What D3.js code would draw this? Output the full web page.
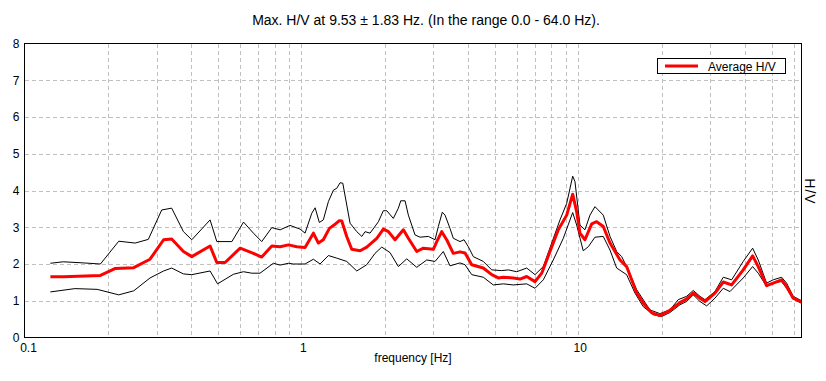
<!DOCTYPE html>
<html><head><meta charset="utf-8">
<script src="https://cdn.jsdelivr.net/npm/d3@7"></script>
<style>
html,body{margin:0;padding:0;background:#fff;}
svg{display:block;font-family:"Liberation Sans",Arial,sans-serif;}
</style></head>
<body>
<svg id="c" width="826" height="381"></svg>
<script>
const titleText = "Max. H/V at 9.53 \u00b1 1.83 Hz. (In the range 0.0 - 64.0 Hz).";
const xLabel = "frequency [Hz]";
const yLabel = "H/V";
const legendLabel = "Average H/V";
const xTickLabels = [0.1, 1, 10];
const xGrid = [0.2,0.3,0.4,0.5,0.6,0.7,0.8,0.9,1,2,3,4,5,6,7,8,9,10,20,30,40,50,60];
const yTicks = [0,1,2,3,4,5,6,7,8];

const freqUpper = [0.124,0.138,0.163,0.188,0.219,0.251,0.280,0.313,0.340,0.375,0.402,0.468,0.495,0.561,0.618,0.671,0.719,0.782,0.838,0.910,0.989,1.031,1.090,1.121,1.161,1.200,1.252,1.305,1.342,1.379,1.411,1.499,1.585,1.653,1.698,1.770,1.897,1.977,2.034,2.148,2.240,2.285,2.368,2.434,2.573,2.683,2.874,3.039,3.123,3.228,3.302,3.441,3.537,3.740,3.867,4.008,4.178,4.539,4.869,5.291,5.589,5.993,6.513,6.979,7.477,8.017,8.589,9.082,9.546,9.730,10.14,10.57,11.02,11.49,12.31,13.02,13.76,14.35,15.16,16.25,18.15,19.72,21.43,22.96,24.62,26.02,27.51,28.68,31.16,33.39,35.80,39.42,42.63,44.66,47.87,50.58,54.24,56.54,59.73,64];
const upper = [2.02,2.06,2.03,2.00,2.62,2.57,2.67,3.47,3.52,2.88,2.66,3.20,2.61,2.61,3.14,2.84,2.61,2.99,2.93,3.05,2.95,2.84,3.38,3.53,3.13,3.20,3.70,4.01,4.06,4.21,4.20,3.11,2.88,2.75,2.88,2.84,3.15,3.45,3.45,3.24,3.52,3.72,3.72,3.33,2.79,2.73,2.75,2.66,3.02,3.41,3.33,2.97,2.70,2.61,2.66,2.47,2.20,2.07,1.84,1.82,1.84,1.79,1.89,1.71,1.93,2.57,3.20,3.65,4.39,4.24,3.06,2.93,3.33,3.56,3.33,2.75,2.34,2.20,1.84,1.30,0.75,0.65,0.75,1.03,1.12,1.28,1.12,1.03,1.25,1.64,1.57,2.07,2.43,2.11,1.48,1.57,1.64,1.48,1.12,1.00];

const freqAvg = [0.124,0.138,0.188,0.213,0.248,0.284,0.318,0.340,0.375,0.402,0.468,0.495,0.530,0.601,0.671,0.719,0.782,0.838,0.898,0.963,1.031,1.105,1.152,1.200,1.262,1.312,1.371,1.399,1.458,1.520,1.629,1.722,1.872,1.977,2.062,2.179,2.335,2.434,2.610,2.757,2.996,3.082,3.213,3.348,3.537,3.740,3.899,4.123,4.539,4.869,5.143,5.361,5.826,6.160,6.513,6.979,7.379,7.903,8.469,9.082,9.546,9.867,10.14,10.57,11.18,11.65,12.31,13.02,14.15,14.95,16.25,17.16,18.41,19.72,21.43,23.29,24.62,26.02,27.51,28.68,31.16,33.39,35.80,39.42,42.63,44.66,47.87,50.58,54.24,56.54,59.73,64];
const avg = [1.65,1.65,1.69,1.88,1.90,2.13,2.66,2.68,2.34,2.20,2.49,2.04,2.04,2.43,2.29,2.19,2.49,2.47,2.52,2.47,2.45,2.84,2.57,2.66,2.97,3.06,3.18,3.17,2.75,2.40,2.36,2.46,2.70,2.95,2.88,2.66,2.93,2.70,2.34,2.43,2.40,2.61,2.88,2.66,2.29,2.33,2.30,1.98,1.89,1.71,1.62,1.64,1.62,1.59,1.66,1.52,1.75,2.34,2.93,3.33,3.90,3.42,2.84,2.66,3.09,3.15,3.02,2.57,2.11,1.93,1.21,0.94,0.67,0.60,0.74,0.95,1.05,1.21,1.07,0.98,1.21,1.51,1.43,1.84,2.22,1.93,1.41,1.48,1.57,1.39,1.07,0.97];

const freqLower = [0.124,0.152,0.183,0.219,0.248,0.284,0.318,0.340,0.375,0.402,0.468,0.498,0.568,0.618,0.662,0.709,0.792,0.838,0.898,0.936,1.031,1.105,1.168,1.252,1.342,1.458,1.585,1.722,1.845,1.951,2.090,2.240,2.402,2.610,2.836,3.039,3.255,3.441,3.740,3.899,4.123,4.539,4.934,5.361,5.826,6.513,6.979,7.477,8.123,8.829,9.546,9.867,10.42,10.87,11.49,12.31,13.02,13.76,14.95,16.02,17.16,18.66,20.00,21.43,23.29,24.62,26.02,27.51,29.08,31.16,33.39,35.30,39.42,42.63,44.66,47.87,51.30,54.24,56.54,59.73,64];
const lower = [1.24,1.33,1.31,1.16,1.27,1.62,1.81,1.89,1.73,1.71,1.81,1.46,1.72,1.79,1.75,1.75,2.02,1.97,2.02,2.00,2.00,2.13,2.00,2.23,2.16,2.07,1.81,1.98,2.29,2.46,2.31,1.93,2.14,1.91,2.11,2.07,2.34,1.95,2.03,1.98,1.71,1.64,1.43,1.46,1.43,1.46,1.34,1.57,2.11,2.70,3.40,3.06,2.36,2.47,2.73,2.75,2.38,1.89,1.71,1.21,0.84,0.62,0.57,0.68,0.89,0.98,1.16,0.98,0.86,1.07,1.34,1.25,1.62,1.93,1.75,1.39,1.50,1.52,1.34,1.05,0.93];

const svg = d3.select("#c");
const L = 24.5, R = 801.5, T = 43.5, B = 337.5;
const x = d3.scaleLog().domain([0.1, 64]).range([L, R]);
const y = d3.scaleLinear().domain([0, 8]).range([B, T]);
const FONT = "Liberation Sans, Arial, sans-serif";

// grid
const g = svg.append("g").attr("shape-rendering","crispEdges");
g.selectAll(".vg").data(xGrid).enter().append("line")
  .attr("x1", d => Math.round(x(d)) + 0.5).attr("x2", d => Math.round(x(d)) + 0.5)
  .attr("y1", T).attr("y2", B)
  .attr("stroke", "#c0c0c0").attr("stroke-dasharray", "4,3");
g.selectAll(".hg").data(yTicks.filter(d => d > 0 && d < 8)).enter().append("line")
  .attr("y1", d => Math.round(y(d)) + 0.5).attr("y2", d => Math.round(y(d)) + 0.5)
  .attr("x1", L).attr("x2", R)
  .attr("stroke", "#c0c0c0").attr("stroke-dasharray", "4,3");

// curves
const line = d3.line().x(d => x(d[0])).y(d => y(d[1]));
const zip = (fs, vs) => fs.map((f, i) => [f, vs[i]]);
svg.append("path").datum(zip(freqUpper, upper)).attr("d", line)
  .attr("fill", "none").attr("stroke", "#000").attr("stroke-width", 1);
svg.append("path").datum(zip(freqLower, lower)).attr("d", line)
  .attr("fill", "none").attr("stroke", "#000").attr("stroke-width", 1);
svg.append("path").datum(zip(freqAvg, avg)).attr("d", line)
  .attr("fill", "none").attr("stroke", "#ff0000").attr("stroke-width", 3)
  .attr("stroke-linejoin", "round");

// frame
svg.append("rect").attr("x", L).attr("y", T).attr("width", R - L).attr("height", B - T)
  .attr("fill", "none").attr("stroke", "#000").attr("shape-rendering","crispEdges");

// axes (labels only)
const xAxis = d3.axisBottom(x).tickValues(xTickLabels).tickSize(0).tickPadding(6)
  .tickFormat(d => String(d));
const xa = svg.append("g").attr("transform", `translate(0,${B})`).call(xAxis);
xa.select(".domain").remove();
xa.selectAll("text").attr("font-size", 12).attr("font-family", FONT).attr("fill", "#000")
  .attr("dx", d => d === 0.1 ? 3.5 : 1.5);

const yAxis = d3.axisLeft(y).tickValues(yTicks).tickSize(0).tickPadding(5).tickFormat(d3.format("d"));
const ya = svg.append("g").attr("transform", `translate(${L},0)`).call(yAxis);
ya.select(".domain").remove();
ya.selectAll("text").attr("font-size", 12).attr("font-family", FONT).attr("fill", "#000");

// title & labels
svg.append("text").attr("x", 426).attr("y", 25).attr("text-anchor", "middle")
  .attr("font-size", 14).text(titleText);
svg.append("text").attr("x", 413).attr("y", 362).attr("text-anchor", "middle")
  .attr("font-size", 12).text(xLabel);
svg.append("text").attr("transform", "translate(805,191.5) rotate(90)").attr("text-anchor", "middle")
  .attr("font-size", 14).attr("letter-spacing", 1).text(yLabel);

// legend
const lg = svg.append("g");
lg.append("rect").attr("x", 657.5).attr("y", 58.5).attr("width", 128).attr("height", 15)
  .attr("fill", "#fff").attr("stroke", "#000").attr("shape-rendering","crispEdges");
lg.append("line").attr("x1", 665).attr("x2", 698).attr("y1", 66).attr("y2", 66)
  .attr("stroke", "#ff0000").attr("stroke-width", 3);
lg.append("text").attr("x", 708).attr("y", 70.5).attr("font-size", 12).text(legendLabel);
</script>
</body></html>
